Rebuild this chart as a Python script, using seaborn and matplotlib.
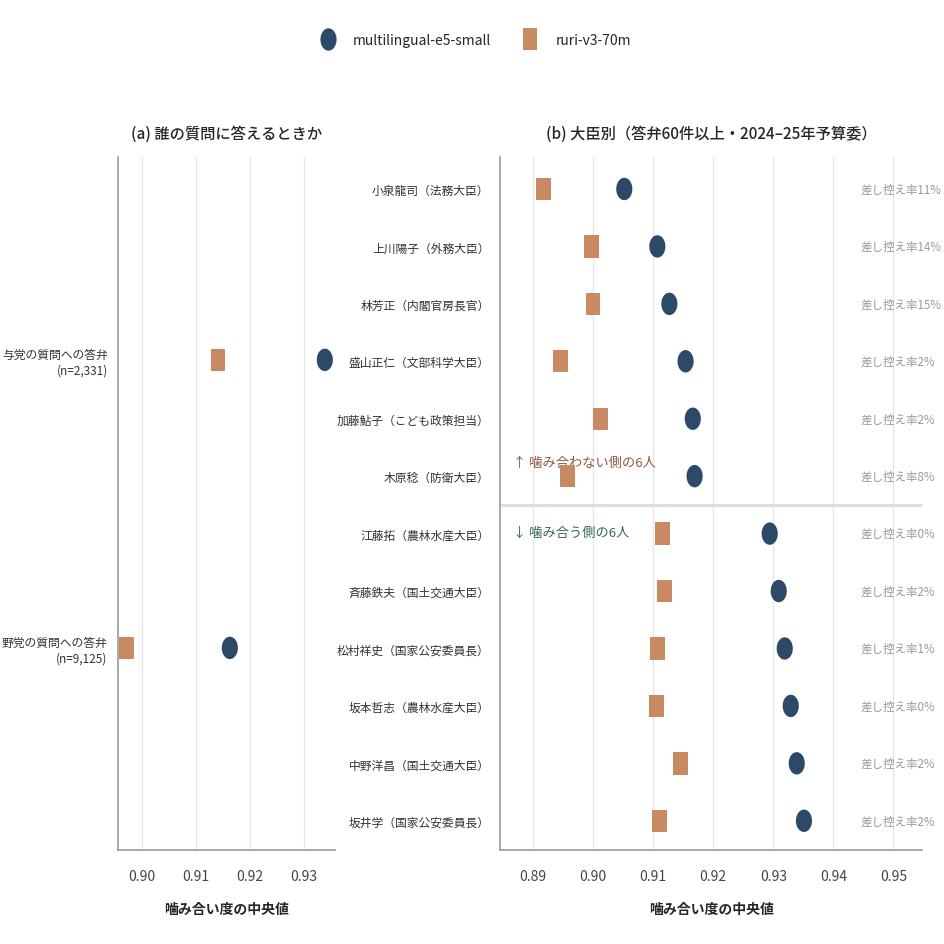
import numpy as np
import pandas as pd
import matplotlib
matplotlib.use("Agg")
import matplotlib.pyplot as plt
from matplotlib.path import Path
import seaborn as sns

# ── data ─────────────────────────────────────────────────────────────────────
MODELS = ["multilingual-e5-small", "ruri-v3-70m"]

party_labels = ["与党の質問への答弁\n(n=2,331)", "野党の質問への答弁\n(n=9,125)"]
party_e5     = [0.9339, 0.9163]
party_ruri   = [0.9141, 0.8972]

ministers = ["小泉龍司（法務大臣）", "上川陽子（外務大臣）", "林芳正（内閣官房長官）",
             "盛山正仁（文部科学大臣）", "加藤鮎子（こども政策担当）", "木原稔（防衛大臣）",
             "江藤拓（農林水産大臣）", "斉藤鉄夫（国土交通大臣）", "松村祥史（国家公安委員長）",
             "坂本哲志（農林水産大臣）", "中野洋昌（国土交通大臣）", "坂井学（国家公安委員長）"]
min_e5   = [0.9052, 0.9107, 0.9127, 0.9154, 0.9166, 0.9169,
            0.9294, 0.9309, 0.9319, 0.9329, 0.9339, 0.9351]
min_ruri = [0.8918, 0.8998, 0.9000, 0.8946, 0.9013, 0.8957,
            0.9115, 0.9119, 0.9107, 0.9105, 0.9145, 0.9110]
withhold = [11, 14, 15, 2, 2, 8, 0, 2, 1, 0, 2, 2]

# ── style ────────────────────────────────────────────────────────────────────
sns.set_theme(style="white")
plt.rcParams["font.family"] = ["Noto Sans CJK JP", "DejaVu Sans"]

C_E5, C_RURI = "#2c4a68", "#c88a62"
pal = {MODELS[0]: C_E5, MODELS[1]: C_RURI}

# tall ellipse / tall rectangle markers
t = np.linspace(0, 2 * np.pi, 60)
ellipse = Path(np.column_stack([0.36 * np.cos(t), 0.5 * np.sin(t)]), closed=True)
rect = Path([(-0.33, -0.5), (0.33, -0.5), (0.33, 0.5), (-0.33, 0.5), (-0.33, -0.5)], closed=True)
mk = {MODELS[0]: ellipse, MODELS[1]: rect}


def long_df(labels, e5, ruri):
    return pd.concat([
        pd.DataFrame({"label": labels, "value": e5, "model": MODELS[0]}),
        pd.DataFrame({"label": labels, "value": ruri, "model": MODELS[1]}),
    ], ignore_index=True)


def style_ax(ax):
    for s in ["top", "right"]:
        ax.spines[s].set_visible(False)
    for s in ["left", "bottom"]:
        ax.spines[s].set_color("#999999")
        ax.spines[s].set_linewidth(1.2)
    ax.grid(axis="x", color="#e6e6e6", lw=1)
    ax.set_axisbelow(True)
    ax.tick_params(axis="y", length=4, width=1.2, color="#333333", labelsize=8.5, labelcolor="#333333")
    ax.tick_params(axis="x", length=0, labelsize=10, labelcolor="#444444", pad=14)
    ax.set_ylabel("")
    ax.set_xlabel("噛み合い度の中央値", fontsize=10, weight="bold", labelpad=14)


fig = plt.figure(figsize=(9.45, 9.45), dpi=100)
ax_a = fig.add_axes([0.125, 0.10, 0.229, 0.733])
ax_b = fig.add_axes([0.529, 0.10, 0.447, 0.733])

# ── (a) party ────────────────────────────────────────────────────────────────
df_a = long_df(party_labels, party_e5, party_ruri)
sns.scatterplot(data=df_a, x="value", y="label", hue="model", style="model",
                palette=pal, markers=mk, s=260, linewidth=0, ax=ax_a, legend=True, zorder=3)
ax_a.set_xlim(0.8956, 0.9357)
ax_a.set_ylim(1.70, -0.705)
ax_a.set_xticks([0.90, 0.91, 0.92, 0.93])
ax_a.set_xticklabels(["0.90", "0.91", "0.92", "0.93"])
style_ax(ax_a)
ax_a.set_title("(a) 誰の質問に答えるときか", fontsize=11, weight="medium", pad=14)

handles, labels = ax_a.get_legend_handles_labels()
ax_a.get_legend().remove()

# ── (b) ministers ────────────────────────────────────────────────────────────
df_b = long_df(ministers, min_e5, min_ruri)
sns.scatterplot(data=df_b, x="value", y="label", hue="model", style="model",
                palette=pal, markers=mk, s=260, linewidth=0, ax=ax_b, legend=False, zorder=3)
ax_b.set_xlim(0.8845, 0.9548)
ax_b.set_ylim(11.5, -0.56)
ticks = [0.89, 0.90, 0.91, 0.92, 0.93, 0.94, 0.95]
ax_b.set_xticks(ticks)
ax_b.set_xticklabels([f"{v:.2f}" for v in ticks])
style_ax(ax_b)
ax_b.set_title("(b) 大臣別（答弁60件以上・2024–25年予算委）", fontsize=11, weight="medium", pad=14)

ax_b.axhline(5.5, color="#dddddd", lw=2.2, zorder=1)
for i, r in enumerate(withhold):
    ax_b.text(0.853, i, f"差し控え率{r}%", transform=ax_b.get_yaxis_transform(),
              ha="left", va="center", fontsize=8.3, color="#999999", clip_on=False)
ax_b.text(0.03, 4.76, "↑ 噛み合わない側の6人", transform=ax_b.get_yaxis_transform(),
          ha="left", va="center", fontsize=9.5, color="#8b5a3c", zorder=2)
ax_b.text(0.03, 5.97, "↓ 噛み合う側の6人", transform=ax_b.get_yaxis_transform(),
          ha="left", va="center", fontsize=9.5, color="#2e6b4a", zorder=2)

fig.legend(handles, labels, loc="upper center", bbox_to_anchor=(0.5, 0.977), ncol=2,
           frameon=False, fontsize=10, handletextpad=0.8, columnspacing=1.8, markerscale=1.0)

fig.savefig("out.png", dpi=100)
